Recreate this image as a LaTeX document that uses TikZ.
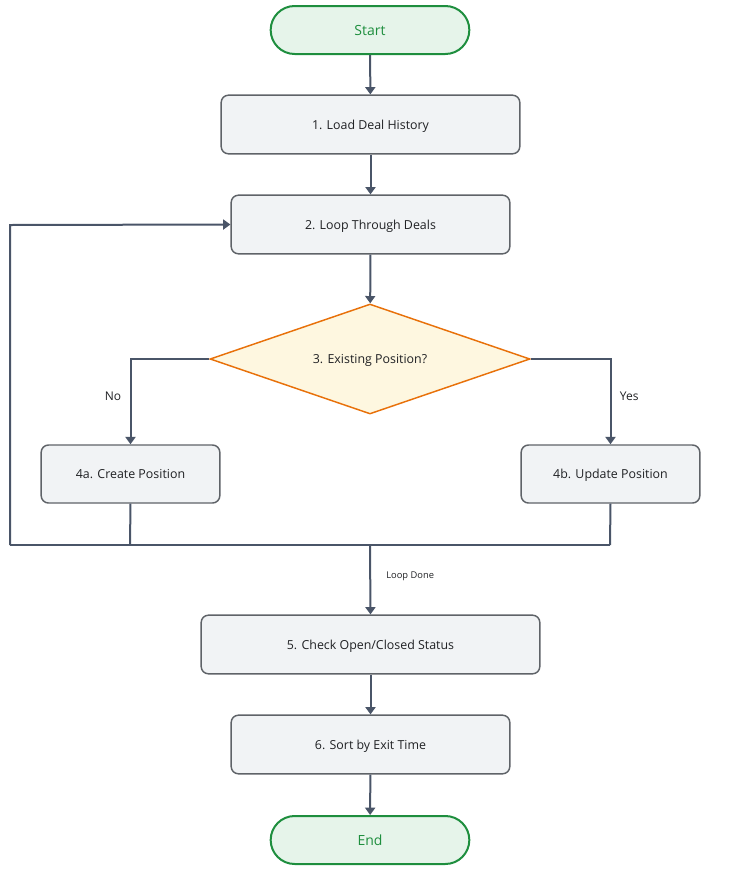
\documentclass[tikz,border=0pt]{standalone}
\usepackage{fontspec}
\setmainfont{Open Sans}
\usetikzlibrary{shapes.geometric,arrows.meta}
\definecolor{lineC}{HTML}{4A5568}
\definecolor{boxFill}{HTML}{F1F3F5}
\definecolor{boxDraw}{HTML}{5F6368}
\definecolor{termFill}{HTML}{E6F4EA}
\definecolor{termDraw}{HTML}{1E8E3E}
\definecolor{decFill}{HTML}{FEF7E0}
\definecolor{decDraw}{HTML}{E8710A}
\definecolor{txt}{HTML}{202124}
\tikzset{
  procbox/.style={draw=boxDraw, fill=boxFill, line width=1.1pt, rounded corners=5.5pt, inner sep=0pt, text depth=0pt, font=\fontsize{9.3}{11}\selectfont, text=txt},
  termbox/.style={draw=termDraw, fill=termFill, line width=1.5pt, rounded corners=18pt, inner sep=0pt, text depth=0pt, font=\fontsize{10.5}{12}\selectfont, text=termDraw, minimum width=149pt, minimum height=36pt},
  decbox/.style={diamond, draw=decDraw, fill=decFill, line width=1.1pt, inner sep=0pt, aspect=2.9, text depth=0pt, font=\fontsize{9.3}{11}\selectfont, text=txt},
  conn/.style={draw=lineC, line width=1.5pt, -{Triangle[width=7.5pt,length=5.5pt]}},
  plain/.style={draw=lineC, line width=1.5pt},
  lbl/.style={font=\fontsize{9}{11}\selectfont, text=txt},
  smalllbl/.style={font=\fontsize{7}{9}\selectfont, text=txt}
}
\begin{document}
\begin{tikzpicture}[x=0.75pt, y=-0.75pt]
\useasboundingbox (0,0) rectangle (750,872);
\node[termbox] (start) at (370,30) {Start};
\node[procbox, minimum width=224pt, minimum height=44pt] (b1) at (370.5,124.5) {1. Load Deal History};
\node[procbox, minimum width=209pt, minimum height=44pt] (b2) at (370.5,224.5) {2. Loop Through Deals};
\node[decbox, minimum width=240pt, minimum height=82.5pt] (d) at (370,359) {3. Existing Position?};
\node[procbox, minimum width=134pt, minimum height=43.5pt] (b4a) at (130.5,474) {4a. Create Position};
\node[procbox, minimum width=134pt, minimum height=43.5pt] (b4b) at (610.5,474) {4b. Update Position};
\node[procbox, minimum width=254pt, minimum height=44pt] (b5) at (370.5,644.5) {5. Check Open/Closed Status};
\node[procbox, minimum width=209pt, minimum height=44pt] (b6) at (370.5,744.5) {6. Sort by Exit Time};
\node[termbox] (end) at (370,840) {End};

\coordinate (mA) at (130,545);
\coordinate (mB) at (610,545);
\coordinate (mC) at (370,545);
\coordinate (lc) at (10,545);
\coordinate (lt) at (10,225);

\draw[conn] (start) -- (b1);
\draw[conn] (b1) -- (b2);
\draw[conn] (b2) -- (d);
\draw[conn] (d.west) -| node[lbl, pos=0.72, left=3pt] {No} (b4a.north);
\draw[conn] (d.east) -| node[lbl, pos=0.72, right=3pt] {Yes} (b4b.north);
\draw[plain] (b4a.south) -- (mA);
\draw[plain] (b4b.south) -- (mB);
\draw[plain] (lc) -- (mB);
\draw[conn] (lc) -- (lt) -- (b2.west);
\draw[conn] (mC) -- node[smalllbl, right=8pt, pos=0.45] {Loop Done} (b5.north);
\draw[conn] (b5) -- (b6);
\draw[conn] (b6) -- (end);
\end{tikzpicture}
\end{document}
